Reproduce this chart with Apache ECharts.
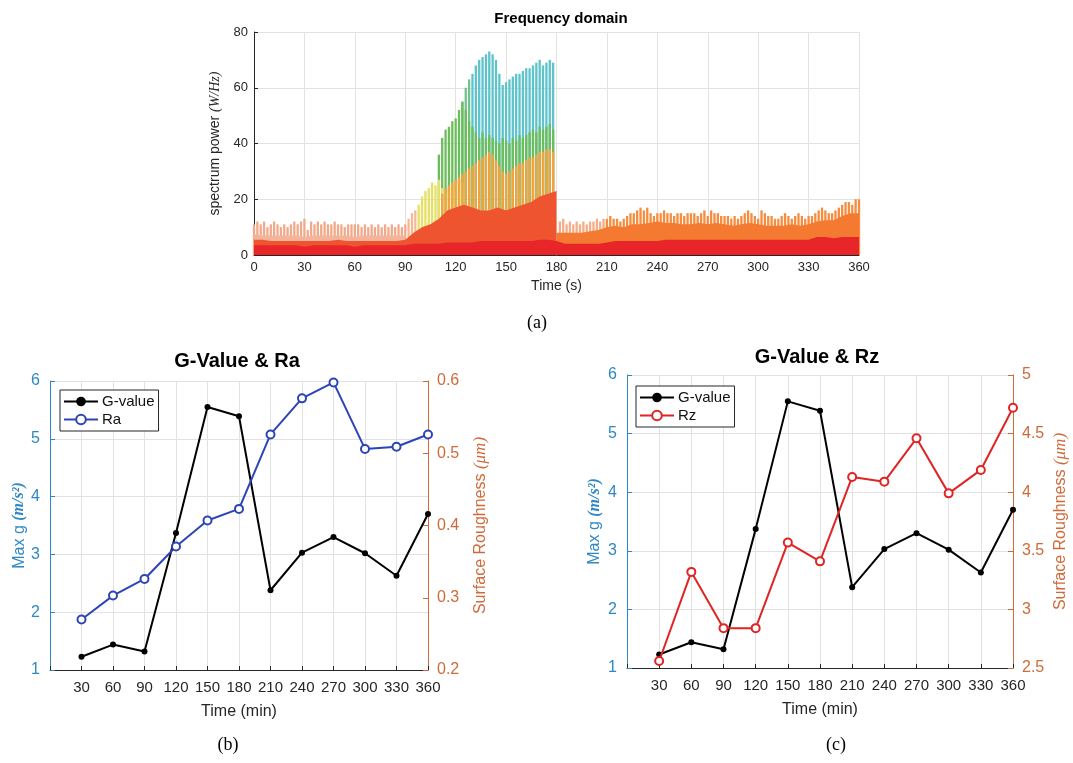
<!DOCTYPE html>
<html><head><meta charset="utf-8">
<script src="https://cdn.jsdelivr.net/npm/echarts@6/dist/echarts.min.js"></script>
<style>html,body{margin:0;padding:0;background:#fff}#c{width:1073px;height:763px}</style>
</head><body><div id="c"></div>
<script>
// ---------- panel (b) and (c) data ----------
const minutes = [30,60,90,120,150,180,210,240,270,300,330,360];
const gValue  = [1.23,1.44,1.32,3.37,5.55,5.39,2.38,3.03,3.30,3.02,2.63,3.70];
const ra      = [0.270,0.303,0.326,0.371,0.407,0.423,0.526,0.576,0.598,0.506,0.509,0.526];
const rz      = [2.56,3.32,2.84,2.84,3.57,3.41,4.13,4.09,4.46,3.99,4.19,4.72];

// ---------- panel (a) spectrum data (seconds) ----------
// solid layers sampled every 5 s
const redBase = [3.5,3.5,3.5,3.5,3.5,3.5,3,3.5,3.5,3.5,3.5,3.5,3,3.5,3.5,3.5,3.5,3.5,3.5,
  4,4,4,4,4.5,4.5,4.5,4.5,5,5,5,5,5,5,5,5.5,5.5,
  5,4,4,4,4,4,4.5,5,5,5,5,5,5,
  5.5,5.5,5.5,5.5,5.5,5.5,5.5,5.5,5.5,5.5,5.5,5.5,5.5,5.5,5.5,5.5,5.5,5.5,
  6.5,6.5,6,6.5,6.5,6.5];                       // 0..360
const redOrangeA = [5.5,5.5,5,5,5,5,5,5,5,5,5.5,5,5,5,5,5,5,5,5.5,
  8,10,11,13,16,17,18,17,16,16,17,16,17,18,19,21,22,23];   // 0..180
const salmonSolidA = [7.5,7,7,7,7,7,6.5,7,7,7,7,7,6.5,7,7,7,7,7,7];  // 0..90
const orangeB = [8,8,8,8,8.5,9,10,10.5,10,11,11,11.5,12,11.5,11.5,11,11,11.5,11,11.5,11,10.5,11,11.5,11,
  10.5,10.5,10.5,11,10.5,11,12,12.5,12.5,14,15,15];        // 180..360
// spike layers sampled every 2 s
const spikesA = [11,12,11,12,10,11,12,11,10,11, 10,11,12,11,12,13,9,12,11,12,
  11,12,11,11,12,11,11,10,11,11, 11,11,10,11,10,11,10,11,10,11, 10,11,10,11,10,11]; // 0..90
const spikesB = [12,13,11,12,11,12,11,12,11,12, 12,13,12,13,13,14,13,13,12,13,
  14,15,15,16,17,16,17,15,14,15, 15,16,15,15,14,15,15,14,15,15,
  15,14,15,16,14,16,15,15,14,14, 14,13,14,13,14,15,16,15,14,13,
  16,15,14,14,13,13,14,15,14,13, 14,15,14,13,14,14,15,16,17,16,
  15,15,16,17,18,19,19,18,20,20];                          // 182..360
const yellowSpikes = [13,15,16,18,21,23,24,26,25,27,24,22,24,25,26,27,26];   // 92..124
const amberSpikes = [22,24,25,26,27,28,29,30,31,32, 33,34,35,36,37,36,34,32,30,29,
  30,31,32,33,33,34,35,35,36,37, 37,38,38,37];              // 112..178
const greenSpikes = [36,42,45,46,48,49,52,55,52,48, 46,44,42,44,42,43,42,41,40,42,
  41,40,42,41,43,42,43,44,45,44, 46,45,46,47,45];           // 110..178
const cyanSpikes = [55,60,63,65,68,70,71,72,73,72, 70,65,61,62,63,64,65,65,66,67,
  67,68,69,70,68,69,70,69];                                 // 124..178

const secTicks = {min:0, max:360, interval:30};
const minTicks = {min:0, max:360, interval:30};

const FONT = 'Liberation Sans, Arial, Helvetica, sans-serif';
const SERIF = 'Liberation Serif, DejaVu Serif, serif';
const AX = '#262626';
const BLUE = '#2f88c3';
const ORANGE = '#cf6a3a';
const GRID = '#e2e2e2';

function seq(start, step, arr){ return arr.map((v,i)=>[start+i*step, v]); }
function spikes(start, arr, color){
  return {type:'bar', xAxisIndex:0, yAxisIndex:0, data: seq(start,2,arr), barWidth:2.3, barGap:'-100%',
    itemStyle:{color}, silent:true};
}
function area(start, arr, color){
  return {type:'line', xAxisIndex:0, yAxisIndex:0, data: seq(start,5,arr), symbol:'none', showSymbol:false,
    lineStyle:{width:0}, areaStyle:{color, opacity:1}, silent:true};
}

function xMin(grid, gap){
  return {type:'value', gridIndex:grid, min:minTicks.min, max:minTicks.max, interval:minTicks.interval,
    axisLine:{show:true, lineStyle:{color:AX}}, axisTick:{show:true, inside:true, length:4, lineStyle:{color:AX}},
    axisLabel:{color:AX, fontSize:15, fontFamily:FONT, margin:10, formatter:v=> v===0?'':String(v)},
    splitLine:{show:true, lineStyle:{color:GRID}},
    name:'Time (min)', nameLocation:'middle', nameGap:gap,
    nameTextStyle:{color:AX, fontSize:16, fontFamily:FONT}};
}
function yLeft(grid, gap){
  return {type:'value', gridIndex:grid, position:'left', min:1, max:6, interval:1,
    axisLine:{show:true, lineStyle:{color:BLUE}}, axisTick:{show:true, inside:true, length:5, lineStyle:{color:BLUE}},
    axisLabel:{color:BLUE, fontSize:16, fontFamily:FONT, margin:10},
    splitLine:{show:true, lineStyle:{color:GRID}},
    name:'{a|Max g }{b|(m/s²)}', nameLocation:'middle', nameGap:gap,
    nameTextStyle:{color:BLUE, fontSize:16, fontFamily:FONT,
      rich:{a:{color:BLUE, fontSize:16, fontFamily:FONT}, b:{color:BLUE, fontSize:16, fontFamily:SERIF, fontStyle:'italic', fontWeight:'bold'}}}};
}
function yRight(grid, min, max, interval, gap, fmt){
  return {type:'value', gridIndex:grid, position:'right', min, max, interval,
    axisLine:{show:true, lineStyle:{color:ORANGE}}, axisTick:{show:true, inside:true, length:5, lineStyle:{color:ORANGE}},
    axisLabel:{color:ORANGE, fontSize:16, fontFamily:FONT, margin:9, formatter:fmt},
    splitLine:{show:false},
    name:'{a|Surface Roughness }{b|(μm)}', nameLocation:'middle', nameGap:gap,
    nameTextStyle:{color:ORANGE, fontSize:16, fontFamily:FONT,
      rich:{a:{color:ORANGE, fontSize:16, fontFamily:FONT}, b:{color:ORANGE, fontSize:17, fontFamily:SERIF, fontStyle:'italic'}}}};
}
function gLine(xi, yi){
  return {type:'line', name:'G-value', xAxisIndex:xi, yAxisIndex:yi, data: minutes.map((m,i)=>[m,gValue[i]]),
    color:'#000', lineStyle:{color:'#000', width:2}, symbol:'circle', symbolSize:6, itemStyle:{color:'#000'}, z:3};
}
function rLine(name, xi, yi, vals, color){
  return {type:'line', name, xAxisIndex:xi, yAxisIndex:yi, data: minutes.map((m,i)=>[m,vals[i]]),
    color, lineStyle:{color, width:2}, symbol:'emptyCircle', symbolSize:8, itemStyle:{color, borderWidth:2, borderColor:color}, z:4};
}
function legendAt(left, top, items){
  return {data:items, left, top, orient:'vertical', backgroundColor:'#fff', borderColor:AX, borderWidth:1,
    padding:[4,4,4,3], itemGap:3, itemWidth:34, itemHeight:12, selectedMode:false,
    textStyle:{fontSize:15, color:'#111', fontFamily:FONT, padding:[0,0,0,-1]}};
}

const option = {
  animation:false,
  backgroundColor:'#fff',
  title:[
    {text:'Frequency domain', left:556, top:6, textAlign:'center', textStyle:{fontSize:15, fontWeight:'bold', fontFamily:FONT, color:'#000'}},
    {text:'G-Value & Ra', left:232, top:346, textAlign:'center', textStyle:{fontSize:20, fontWeight:'bold', fontFamily:FONT, color:'#000'}},
    {text:'G-Value & Rz', left:812, top:342, textAlign:'center', textStyle:{fontSize:20, fontWeight:'bold', fontFamily:FONT, color:'#000'}}
  ],
  legend:[ legendAt(60, 390, ['G-value','Ra']), legendAt(636, 386, ['G-value','Rz']) ],
  grid:[
    {left:254, top:32, width:605, height:223},
    {left:50, top:381, width:378, height:289},
    {left:627, top:375, width:386, height:293}
  ],
  xAxis:[
    {type:'value', gridIndex:0, min:secTicks.min, max:secTicks.max, interval:secTicks.interval,
      axisLine:{show:true, lineStyle:{color:AX}}, axisTick:{show:true, inside:true, length:4, lineStyle:{color:AX}},
      axisLabel:{color:AX, fontSize:13, fontFamily:FONT, margin:6},
      splitLine:{show:true, lineStyle:{color:GRID}},
      name:'Time (s)', nameLocation:'middle', nameGap:24, nameTextStyle:{color:AX, fontSize:14, fontFamily:FONT}},
    xMin(1, 34),
    xMin(2, 34)
  ],
  yAxis:[
    {type:'value', gridIndex:0, min:0, max:80, interval:20,
      axisLine:{show:true, lineStyle:{color:AX}}, axisTick:{show:true, inside:true, length:4, lineStyle:{color:AX}},
      axisLabel:{color:AX, fontSize:13, fontFamily:FONT, margin:6},
      splitLine:{show:true, lineStyle:{color:GRID}},
      name:'{a|spectrum power }{b|(W/Hz)}', nameLocation:'middle', nameGap:22,
      nameTextStyle:{color:AX, fontSize:14, fontFamily:FONT,
        rich:{a:{color:AX, fontSize:14, fontFamily:FONT}, b:{color:AX, fontSize:14, fontFamily:SERIF, fontStyle:'italic'}}}},
    yLeft(1, 22),
    yRight(1, 0.2, 0.6, 0.1, 44, v=>v.toFixed(1)),
    yLeft(2, 24),
    yRight(2, 2.5, 5, 0.5, 39, v=>String(v))
  ],
  series:[
    spikes(124, cyanSpikes, p=> p.value[0] < 130 ? '#72c28c' : '#5ec3cb'),
    spikes(110, greenSpikes, p=> '#6cbd5c'),
    spikes(92, yellowSpikes, p=> p.value[0] < 97 ? '#f5b896' : '#e6e065'),
    spikes(112, amberSpikes, p=> '#f3a23c'),
    spikes(0, spikesA, p=> '#f2a98a'),
    spikes(182, spikesB, p=> p.value[0] < 210 ? '#f4ad86' : '#f58c3e'),
    area(0, salmonSolidA, '#f3b49c'),
    area(180, orangeB, '#f37a30'),
    area(0, redOrangeA, '#ef5430'),
    area(0, redBase, '#e8262a'),
    gLine(1, 1),
    rLine('Ra', 1, 2, ra, '#2c45b6'),
    gLine(2, 3),
    rLine('Rz', 2, 4, rz, '#e02424')
  ],
  graphic:[
    {type:'text', x:537, y:323, style:{text:'(a)', font:'18px ' + SERIF, fill:'#000', align:'center', verticalAlign:'middle'}},
    {type:'text', x:228, y:745, style:{text:'(b)', font:'18px ' + SERIF, fill:'#000', align:'center', verticalAlign:'middle'}},
    {type:'text', x:836, y:745, style:{text:'(c)', font:'18px ' + SERIF, fill:'#000', align:'center', verticalAlign:'middle'}}
  ]
};
const chart = echarts.init(document.getElementById('c'));
chart.setOption(option);
</script>
</body></html>
